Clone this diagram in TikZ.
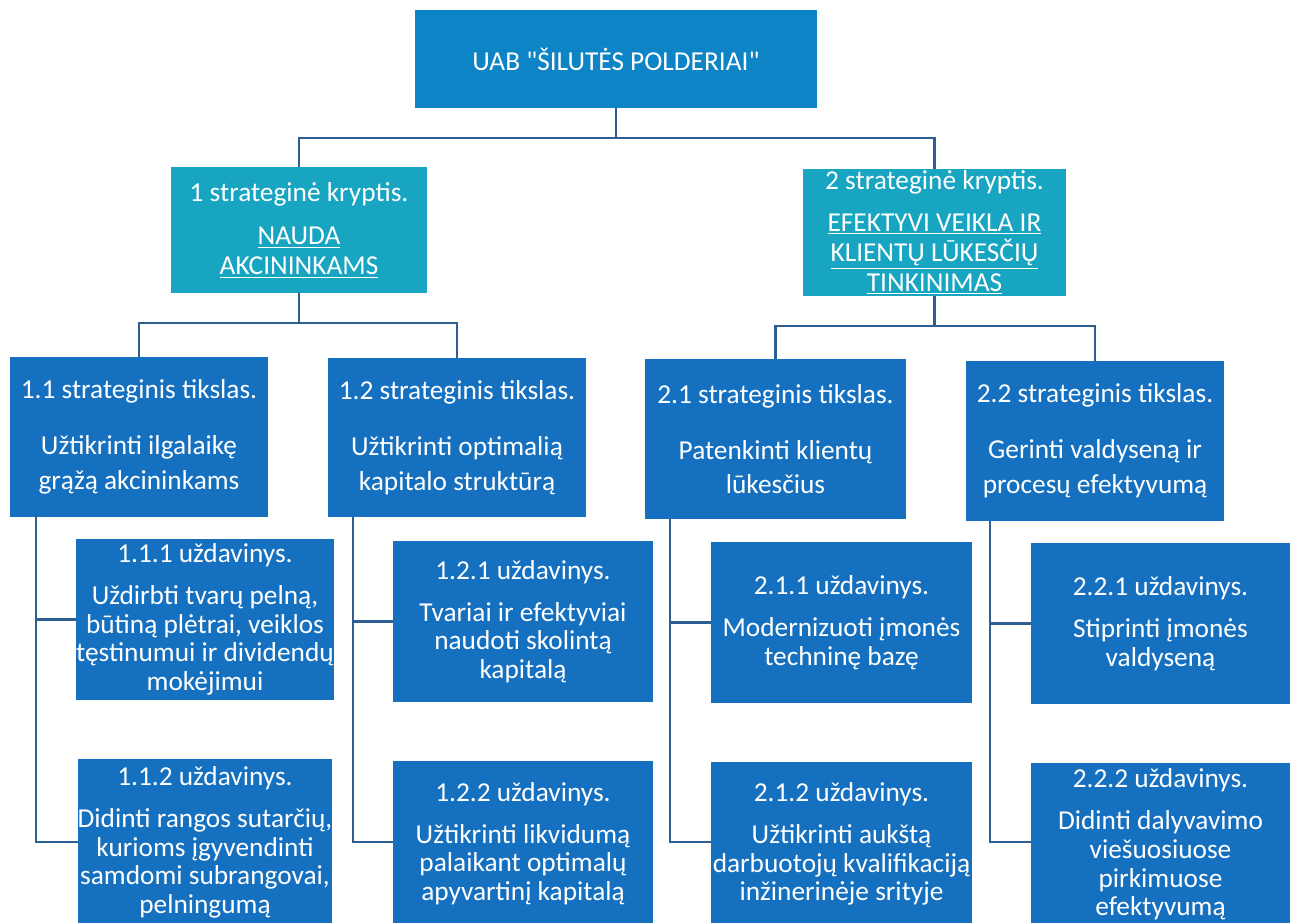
\documentclass[tikz,border=0pt]{standalone}
\usepackage{fontspec}
\setmainfont{Carlito}[Ligatures=TeXOff]
\definecolor{topblue}{HTML}{0C84C6}
\definecolor{boxblue}{HTML}{1570C0}
\definecolor{tealbox}{HTML}{17A5C2}
\definecolor{linec}{HTML}{2D5F93}
\newcommand\goalfnt{\fontsize{20.5}{26}\selectfont}
\newcommand\taskfnt{\fontsize{20.5}{21.5}\selectfont}
\newcommand\dirfnt{\fontsize{20.5}{22.5}\selectfont}
\tikzset{
  boxbase/.style={inner sep=0pt, outer sep=0pt, align=center, text=white, anchor=center},
  topbox/.style={boxbase, fill=topblue, font=\goalfnt},
  dirbox/.style={boxbase, fill=tealbox, font=\dirfnt},
  goalbox/.style={boxbase, fill=boxblue, font=\goalfnt},
  taskbox/.style={boxbase, fill=boxblue, font=\taskfnt},
  conn/.style={draw=linec, line width=1.9pt}
}
\begin{document}
\begin{tikzpicture}[x=0.75pt,y=-0.75pt]
\useasboundingbox[fill=white] (0,0) rectangle (1296,923);
% top
\node[topbox, minimum width=301.5pt, minimum height=73.5pt] (top) at (616,59) {UAB "ŠILUTĖS POLDERIAI"};
% directions
\node[dirbox, minimum width=192pt, minimum height=94.5pt] (s1) at (299,230) {1 strateginė kryptis.\\[10pt]\underline{NAUDA}\\\underline{AKCININKAMS}};
\node[dirbox, minimum width=197.25pt, minimum height=95.25pt] (s2) at (934.5,232.5) {2 strateginė kryptis.\\[9pt]\underline{EFEKTYVI VEIKLA IR}\\\underline{KLIENTŲ LŪKESČIŲ}\\\underline{TINKINIMAS}};
% goals
\node[goalbox, minimum width=193.5pt, minimum height=120pt] (g11) at (139,437) {1.1 strateginis tikslas.\\[16pt]Užtikrinti ilgalaikę\\grąžą akcininkams};
\node[goalbox, minimum width=193.5pt, minimum height=119.25pt] (g12) at (457,437.5) {1.2 strateginis tikslas.\\[16pt]Užtikrinti optimalią\\kapitalo struktūrą};
\node[goalbox, minimum width=195.75pt, minimum height=120pt] (g21) at (775.5,439) {2.1 strateginis tikslas.\\[16pt]Patenkinti klientų\\lūkesčius};
\node[goalbox, minimum width=193.5pt, minimum height=120pt] (g22) at (1095,441) {2.2 strateginis tikslas.\\[16pt]Gerinti valdyseną ir\\procesų efektyvumą};
% tasks
\node[taskbox, minimum width=190.5pt, minimum height=120.75pt] (t111) at (205,619.5) {1.1.1 uždavinys.\\[10pt]Uždirbti tvarų pelną,\\būtiną plėtrai, veiklos\\tęstinumui ir dividendų\\mokėjimui};
\node[taskbox, minimum width=190.5pt, minimum height=125.25pt] (t112) at (205,842.5) {1.1.2 uždavinys.\\[10pt]Didinti rangos sutarčių,\\kurioms įgyvendinti\\samdomi subrangovai,\\pelningumą};
\node[taskbox, minimum width=195pt, minimum height=120.75pt] (t121) at (523,621.5) {1.2.1 uždavinys.\\[10pt]Tvariai ir efektyviai\\naudoti skolintą\\kapitalą};
\node[taskbox, minimum width=195pt, minimum height=123.75pt] (t122) at (523,843.5) {1.2.2 uždavinys.\\[10pt]Užtikrinti likvidumą\\palaikant optimalų\\apyvartinį kapitalą};
\node[taskbox, minimum width=195.75pt, minimum height=120.75pt] (t211) at (841.5,622.5) {2.1.1 uždavinys.\\[10pt]Modernizuoti įmonės\\techninę bazę};
\node[taskbox, minimum width=195.75pt, minimum height=123pt] (t212) at (841.5,844) {2.1.2 uždavinys.\\[10pt]Užtikrinti aukštą\\darbuotojų kvalifikaciją\\inžinerinėje srityje};
\node[taskbox, minimum width=194.25pt, minimum height=120.75pt] (t221) at (1160.5,623.5) {2.2.1 uždavinys.\\[10pt]Stiprinti įmonės\\valdyseną};
\node[taskbox, minimum width=194.25pt, minimum height=122.25pt] (t222) at (1160.5,844.5) {2.2.2 uždavinys.\\[10pt]Didinti dalyvavimo\\viešuosiuose\\pirkimuose\\efektyvumą};
% junctions
\coordinate (j0) at (616,138);
\coordinate (j1) at (299,323);
\coordinate (j2) at (934.5,326);
\coordinate (v11) at (36,515);
\coordinate (v12) at (353,517);
\coordinate (v21) at (670,519);
\coordinate (v22) at (990,521);
\coordinate (e112) at (78,842);
\coordinate (e122) at (393,842);
\coordinate (e212) at (711,842);
\coordinate (e222) at (1031,842);
% connectors
\draw[conn] (top) -- (j0);
\draw[conn] (j0) -| (s1);
\draw[conn] (j0) -| (s2);
\draw[conn] (s1) -- (j1);
\draw[conn] (j1) -| (g11);
\draw[conn] (j1) -| (g12);
\draw[conn] (s2) -- (j2);
\draw[conn] (j2) -| (g21);
\draw[conn] (j2) -| (g22);
\draw[conn] (v11) |- (t111);
\draw[conn] (v11) |- (e112);
\draw[conn] (v12) |- (t121);
\draw[conn] (v12) |- (e122);
\draw[conn] (v21) |- (t211);
\draw[conn] (v21) |- (e212);
\draw[conn] (v22) |- (t221);
\draw[conn] (v22) |- (e222);
\end{tikzpicture}
\end{document}
